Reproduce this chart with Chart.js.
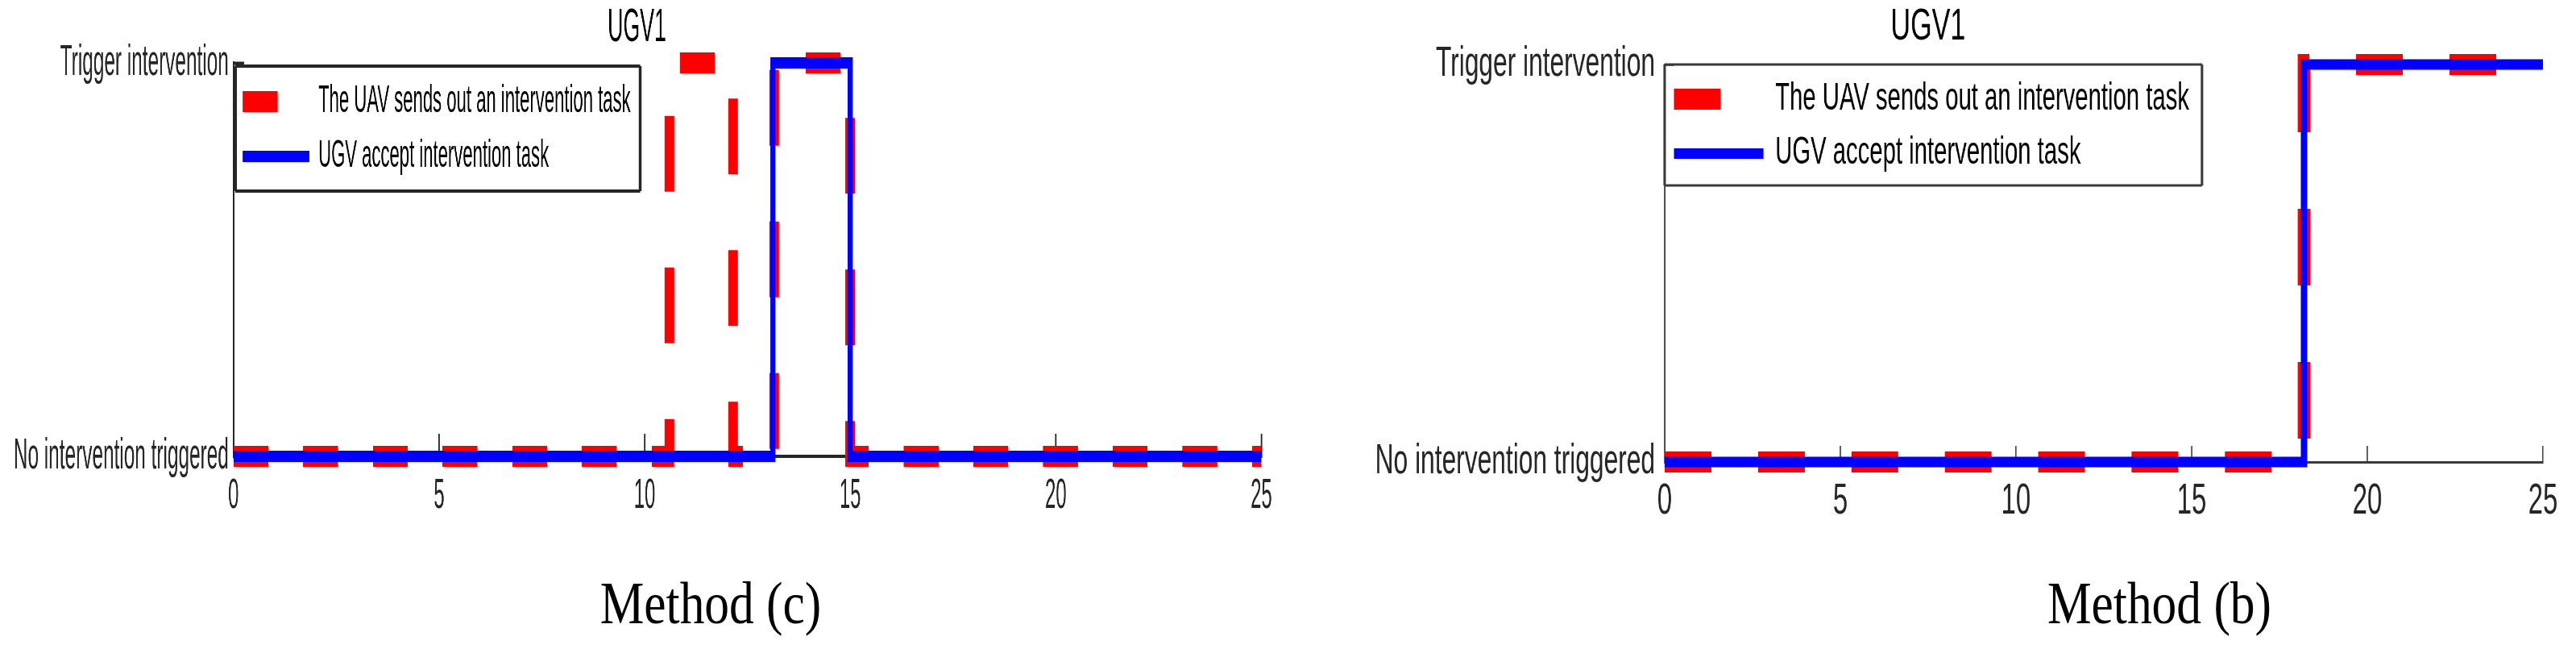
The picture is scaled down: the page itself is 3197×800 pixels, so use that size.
<!DOCTYPE html>
<html>
<head>
<meta charset="utf-8">
<script src="https://cdn.jsdelivr.net/npm/chart.js@4.4.1/dist/chart.umd.min.js"></script>
<style>
html, body { margin:0; padding:0; background:#fff; }
body { width:3197px; height:800px; position:relative; overflow:hidden; }
canvas { position:absolute; top:0; transform-origin:0 0; }
/* the source figure is squeezed sideways, so each panel is drawn wide and compressed */
#chartC { left:0; transform:scaleX(0.46); }
#chartB { left:1620px; transform:scaleX(0.61); }
.caption {
  position:absolute; top:711px; width:1000px; text-align:center;
  font-family:"Liberation Serif", "Times New Roman", serif;
  font-size:74px; line-height:74px; color:#000; white-space:nowrap;
  transform:scaleX(0.83); transform-origin:50% 0;
}
</style>
</head>
<body>
<canvas id="chartC" width="3478" height="680"></canvas>
<canvas id="chartB" width="2585" height="680"></canvas>
<div class="caption" style="left:382px">Method (c)</div>
<div class="caption" style="left:2180px">Method (b)</div>

<script>

// ================================
// DATA
// ================================

const xTickValues = [0, 5, 10, 15, 20, 25];
const yTickLabels = ['No intervention triggered', 'Trigger intervention'];
const seriesNames = ['The UAV sends out an intervention task', 'UGV accept intervention task'];
const panelTitle = 'UGV1';

// Method (c) - state changes (time, state)
const uavTimeC = [0, 10.6, 12.15, 13.15, 15, 25];
const uavStateC = [0, 1, 0, 1, 0, 0];
const ugvTimeC = [0, 13.12, 15, 25];
const ugvStateC = [0, 1, 0, 0];

// Method (b)
const uavTimeB = [0, 18.2, 25];
const uavStateB = [0, 1, 1];
const ugvTimeB = [0, 18.2, 25];
const ugvStateB = [0, 1, 1];


Chart.defaults.font.family = '"Liberation Sans", Arial, sans-serif';


function toPoints(times, states){
  return times.map((t, i) => ({x: t, y: states[i]}));
}

// legend swatch image, as wide as the legend box
function swatch(w, h, fillW, color){
  const c = document.createElement('canvas');
  c.width = w;
  c.height = h;
  const g = c.getContext('2d');
  g.fillStyle = color;
  g.fillRect(0, 0, fillW, h);
  return c;
}


// legend sits inside the plot, top left, with a frame round it
const legendFrame = {
  id: 'legendFrame',
  beforeDraw(chart, args, opts){
    const lg = chart.legend;
    const a = chart.chartArea;
    lg.left = a.left + opts.dx;
    lg.top = a.top + opts.dy;
    lg.right = a.right;
    lg.bottom = a.bottom;
  },
  afterDraw(chart, args, opts){
    const lg = chart.legend;
    const ctx = chart.ctx;
    let w = 0;
    lg.legendHitBoxes.forEach(h => { w = Math.max(w, h.width); });
    const x0 = lg.left;
    const y0 = lg.top;
    const x1 = lg.left + lg.options.labels.padding + w + opts.extraRight;
    const y1 = lg.top + opts.height;
    ctx.save();
    ctx.fillStyle = opts.color;
    ctx.fillRect(x0, y0 - opts.hw / 2, x1 - x0, opts.hw);
    ctx.fillRect(x0, y1 - opts.hw / 2, x1 - x0, opts.hw);
    ctx.fillRect(x0 - opts.vw / 2, y0, opts.vw, y1 - y0);
    ctx.fillRect(x1 - opts.vw / 2, y0, opts.vw, y1 - y0);
    ctx.restore();
  }
};


function makeChart(id, p){

  const axisColor = p.axisColor;

  return new Chart(document.getElementById(id), {

    type: 'line',

    data: {
      datasets: [
        {
          label: seriesNames[1],
          data: toPoints(p.ugvTime, p.ugvState),
          borderColor: '#0000ff',
          borderWidth: p.blueWidth,
          stepped: true,
          pointRadius: 0,
          fill: false,
          clip: false,
          legendSwatch: swatch(p.boxW, p.blueWidth, p.boxW, '#0000ff')
        },
        {
          label: seriesNames[0],
          data: toPoints(p.uavTime, p.uavState),
          borderColor: '#ff0000',
          borderWidth: p.redWidth,
          borderDash: [p.dash, p.dash],
          stepped: true,
          pointRadius: 0,
          fill: false,
          clip: false,
          legendSwatch: swatch(p.boxW, p.redWidth, p.dash, '#ff0000')
        }
      ]
    },

    options: {
      responsive: false,
      devicePixelRatio: 1,
      animation: false,
      events: [],
      layout: { padding: { left: 0, right: p.padRight, top: 0, bottom: 0 } },

      scales: {
        x: {
          type: 'linear',
          min: 0,
          max: 25,
          afterBuildTicks: s => { s.ticks = xTickValues.map(v => ({value: v})); },
          afterFit: s => { s.height = p.xAxisH; },
          border: { color: axisColor, width: p.xBorder },
          grid: { drawOnChartArea: false, tickLength: -p.tickLen, tickColor: axisColor, tickWidth: p.tickW },
          ticks: { color: '#262626', font: { size: p.xFont }, padding: p.xPad, maxRotation: 0, autoSkip: false }
        },
        y: {
          type: 'linear',
          min: 0,
          max: 1,
          afterBuildTicks: s => { s.ticks = yTickLabels.map((t, i) => ({value: i})); },
          afterFit: s => { s.width = p.yAxisW; },
          border: { color: axisColor, width: p.yBorder },
          grid: { drawOnChartArea: false, tickLength: -p.tickLen, tickColor: axisColor, tickWidth: p.tickW },
          ticks: { color: '#262626', font: { size: p.yFont }, padding: p.yPad, callback: v => yTickLabels[v] }
        }
      },

      plugins: {
        tooltip: { enabled: false },
        title: {
          display: true,
          text: panelTitle,
          color: '#000',
          font: { size: p.titleFont, weight: 'normal' },
          padding: { top: 0, bottom: p.titlePadB }
        },
        legend: {
          position: 'chartArea',
          align: 'start',
          labels: {
            usePointStyle: true,
            pointStyleWidth: p.boxW,
            padding: p.legendPad,
            color: '#000',
            font: { size: p.legendFont },
            generateLabels(chart){
              const items = Chart.defaults.plugins.legend.labels.generateLabels(chart);
              items.forEach(it => { it.pointStyle = chart.data.datasets[it.datasetIndex].legendSwatch; });
              return items.reverse();
            }
          }
        },
        legendFrame: p.frame
      }
    },

    plugins: [legendFrame]

  });

}


// ================================
// METHOD (c)
// ================================

makeChart('chartC', {
  uavTime: uavTimeC, uavState: uavStateC,
  ugvTime: ugvTimeC, ugvState: ugvStateC,
  redWidth: 26, blueWidth: 14, dash: 94,
  boxW: 180, legendPad: 20, legendFont: 48,
  padRight: 41, xAxisH: 114, yAxisW: 630,
  xFont: 52, xPad: 46, yFont: 53, yPad: 41,
  tickLen: 28, tickW: 4, xBorder: 4, yBorder: 5,
  axisColor: '#262626',
  titleFont: 58, titlePadB: 8.4,
  frame: { dx: 5, dy: 4, extraRight: 26, height: 155, hw: 4, vw: 8, color: '#262626' }
});


// ================================
// METHOD (b)
// ================================

makeChart('chartB', {
  uavTime: uavTimeB, uavState: uavStateB,
  ugvTime: ugvTimeB, ugvState: ugvStateB,
  redWidth: 26, blueWidth: 13, dash: 95,
  boxW: 182, legendPad: 19, legendFont: 48,
  padRight: 51, xAxisH: 107, yAxisW: 731,
  xFont: 54, xPad: 37, yFont: 52, yPad: 39.5,
  tickLen: 20, tickW: 2.5, xBorder: 3, yBorder: 3,
  axisColor: '#3a3a3a',
  titleFont: 56, titlePadB: 12.8,
  frame: { dx: 0, dy: 0, extraRight: 26, height: 150, hw: 3, vw: 5, color: '#3a3a3a' }
});

</script>
</body>
</html>
